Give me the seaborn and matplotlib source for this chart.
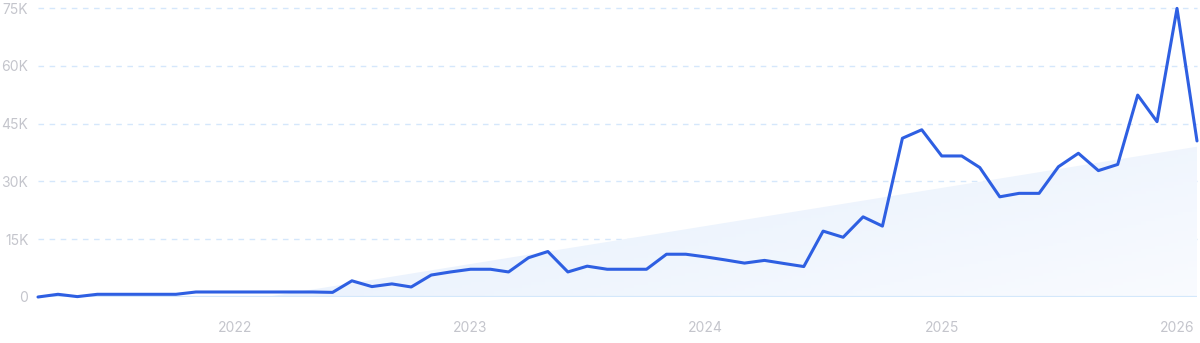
import numpy as np
import pandas as pd
import seaborn as sns
import matplotlib.pyplot as plt
import matplotlib.dates as mdates
from matplotlib.ticker import FuncFormatter
from matplotlib.colors import LinearSegmentedColormap

# Monthly values, Mar 2021 - Feb 2026
months = pd.date_range("2021-03-01", "2026-02-01", freq="MS")
values = [
    0, 700, 100, 700, 700, 700, 700, 700, 1300, 1300,
    1300, 1300, 1300, 1300, 1300, 1200, 4200, 2700, 3400, 2600, 5700, 6500,
    7200, 7200, 6500, 10200, 11800, 6500, 8000, 7200, 7200, 7200, 11100, 11100,
    10400, 9600, 8800, 9500, 8700, 7900, 17100, 15500, 20800, 18400, 41200, 43400,
    36600, 36600, 33600, 26000, 26900, 26900, 33800, 37300, 32800, 34400, 52400, 45500,
    74900, 40500,
]

# Trend area end points
trend_dates = pd.to_datetime(["2022-02-18", "2026-02-01"])
trend_values = [0, 39000]

y_ticks = [0, 15000, 30000, 45000, 60000, 75000]
x_ticks = pd.to_datetime(["2022-01-01", "2023-01-01", "2024-01-01", "2025-01-01", "2026-01-01"])

df = pd.DataFrame({"month": months, "value": values})

sns.set_style("white")
plt.rcParams["font.family"] = ["Inter", "DejaVu Sans"]

fig = plt.figure(figsize=(12, 3.43), dpi=100)
ax = fig.add_axes([38 / 1200, 1 - 297 / 343, (1197 - 38) / 1200, (297 - 8) / 343])

x0, x1 = mdates.date2num(months[0]), mdates.date2num(months[-1])
ax.set_xlim(x0, x1)
ax.set_ylim(0, 75000)

# Trend area with a soft gradient
poly = ax.fill_between(trend_dates, [0, 0], trend_values, color="none", lw=0, zorder=1)
cmap = LinearSegmentedColormap.from_list("fade", ["#e3eefc", "#f9fbff"])
gx, gy = np.meshgrid(np.linspace(0, 1, 200), np.linspace(0, 1, 50))
grad = (gx * 0.6 + gy * 0.4)
img = ax.imshow(grad, cmap=cmap, aspect="auto", origin="upper",
                extent=[mdates.date2num(trend_dates[0]), x1, 0, trend_values[1]], zorder=1)
img.set_clip_path(poly.get_paths()[0], transform=ax.transData)

# Grid lines
for t in y_ticks[1:]:
    ax.axhline(t, color="#d5e7fb", lw=1, ls=(0, (4, 4)), zorder=0.5, clip_on=False)
ax.axhline(0, color="#d4e8fb", lw=1.6, zorder=1.5)

sns.lineplot(data=df, x="month", y="value", ax=ax, color="#2e5fe2", lw=2.2,
             zorder=3, clip_on=False)

ax.set_yticks(y_ticks)
ax.yaxis.set_major_formatter(FuncFormatter(lambda v, p: "0" if v == 0 else f"{int(v / 1000)}K"))
ax.set_xticks(x_ticks)
ax.xaxis.set_major_formatter(mdates.DateFormatter("%Y"))
ax.tick_params(axis="y", length=0, pad=7, labelsize=10, labelcolor="#c4c5cc")
ax.tick_params(axis="x", length=0, pad=17, labelsize=10, labelcolor="#c4c5cc")
ax.set_xlabel("")
ax.set_ylabel("")
sns.despine(ax=ax, left=True, bottom=True)
ax.grid(False)

fig.savefig("out.png", dpi=100)
